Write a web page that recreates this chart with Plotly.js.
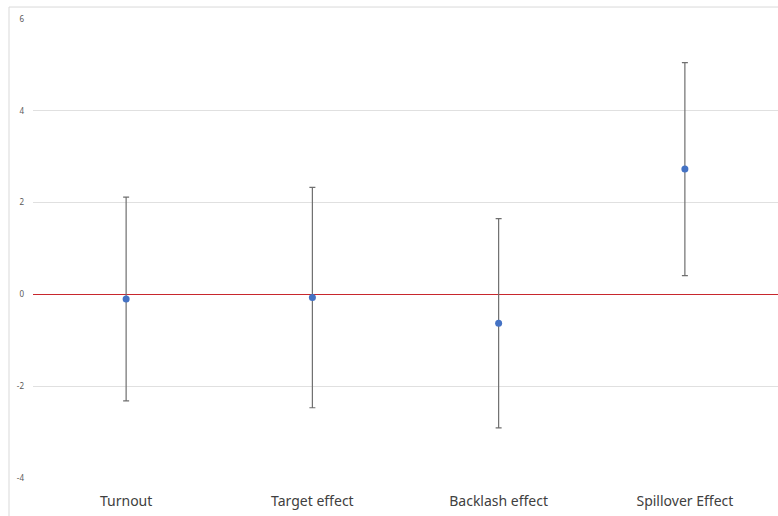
<!DOCTYPE html>
<html>
<head>
<meta charset="utf-8">
<script src="https://cdn.plot.ly/plotly-3.0.1.min.js"></script>
<style>html,body{margin:0;padding:0;background:#fff;}#chart{width:778px;height:516px;}</style>
</head>
<body>
<div id="chart"></div>
<script>
var categories = ["Turnout", "Target effect", "Backlash effect", "Spillover Effect"];
var estimates = [-0.10, -0.07, -0.63, 2.73];
var errors = [2.22, 2.40, 2.28, 2.32];
var yTicks = [-4, -2, 0, 2, 4, 6];

var trace = {
  x: categories,
  y: estimates,
  type: "scatter",
  mode: "markers",
  marker: {color: "#4472c4", size: 7},
  error_y: {type: "data", array: errors, visible: true, color: "#6f6f6f", thickness: 1.2, width: 3},
  hoverinfo: "x+y"
};

var layout = {
  width: 778, height: 516,
  margin: {l: 33, r: 0, t: 19, b: 38},
  paper_bgcolor: "#ffffff",
  plot_bgcolor: "#ffffff",
  showlegend: false,
  font: {family: "Noto Sans, Open Sans, sans-serif"},
  xaxis: {
    type: "category",
    range: [-0.5, 3.5],
    showgrid: false,
    showline: false,
    zeroline: false,
    ticks: "",
    ticklabelstandoff: 13,
    tickfont: {size: 14, color: "#404040", family: "Noto Sans, sans-serif"}
  },
  yaxis: {
    range: [-4, 6],
    tickvals: yTicks,
    ticktext: yTicks.map(String),
    showgrid: true,
    gridcolor: "#e0e0e0",
    gridwidth: 1,
    zeroline: true,
    zerolinecolor: "#c8272d",
    zerolinewidth: 1,
    showline: false,
    ticks: "",
    ticklabelstandoff: 8,
    tickfont: {size: 8, color: "#595959", family: "Noto Sans, sans-serif"}
  },
  shapes: [{
    type: "rect", xref: "paper", yref: "paper",
    x0: -0.0322, x1: 1.02, y0: -0.2, y1: 1.0261,
    line: {color: "#d9d9d9", width: 1}, fillcolor: "rgba(0,0,0,0)", layer: "below"
  }]
};

Plotly.newPlot("chart", [trace], layout, {displayModeBar: false, staticPlot: true});
</script>
</body>
</html>
